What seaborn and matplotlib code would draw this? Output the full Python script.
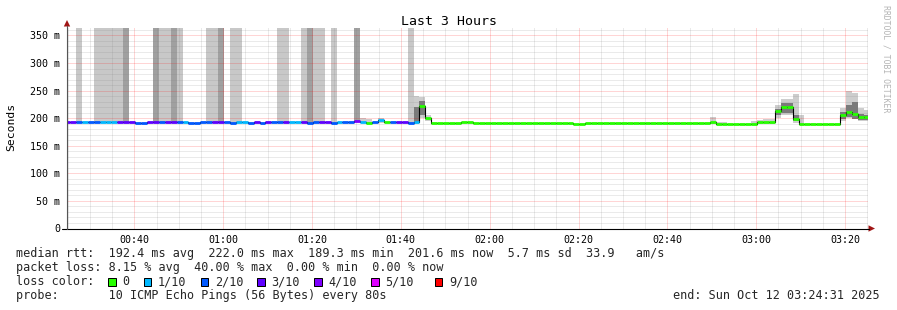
import numpy as np
import pandas as pd
import matplotlib
matplotlib.use("Agg")
import matplotlib.pyplot as plt
from matplotlib.patches import Polygon, Rectangle
import seaborn as sns

# ---------------- data ----------------
title = "Last 3 Hours"
y_label = "Seconds"
x_tick_labels = ["00:40", "01:00", "01:20", "01:40", "02:00", "02:20", "02:40", "03:00", "03:20"]
y_ticks = [0, 50, 100, 150, 200, 250, 300, 350]
y_tick_labels = ["0", "50 m", "100 m", "150 m", "200 m", "250 m", "300 m", "350 m"]
axis_start = "00:24:51"
axis_span_min = 180.3
y_top = 363.5
bin_first_start = "00:24:11"
bin_seconds = 80

# median rtt per 80 s bin (ms), bins k = -1 .. 134
median_ms = [
    192.6, 192.2, 192.4, 193.0, 192.2, 192.2, 192.8, 192.8, 192.8, 192.4, 192.4,
    192.4, 192.0, 192.0, 192.6, 192.6, 192.2, 192.4, 192.6, 192.2, 192.8,
    192.0, 192.0, 192.2, 192.4, 192.6, 192.6, 192.2, 192.0, 192.8, 192.8,
    192.0, 192.6, 192.0, 192.8, 192.2, 192.2, 192.6, 192.8, 192.8, 192.4,
    192.0, 192.2, 192.6, 192.6, 192.0, 192.6, 192.2, 192.2, 195.0, 193.0,
    192.0, 192.6, 196.5, 192.2, 192.4, 192.6, 192.6, 192.0, 192.2, 222.0,
    200.0, 191.5, 191.5, 191.5, 191.5, 191.5, 192.8, 192.8, 191.5, 190.4,
    190.4, 190.4, 190.4, 190.4, 190.4, 190.4, 190.4, 190.4, 190.4, 190.4,
    190.4, 190.4, 190.4, 190.4, 190.4, 189.3, 189.3, 190.4, 190.4, 190.4,
    190.4, 190.4, 190.4, 190.4, 190.4, 190.4, 190.4, 190.4, 190.4, 190.4,
    190.4, 190.4, 190.4, 190.4, 190.4, 190.4, 190.4, 190.4, 193.0, 190.3,
    190.3, 190.3, 190.3, 190.3, 190.3, 190.3, 192.5, 192.5, 192.5, 212.5,
    221.0, 220.5, 199.0, 190.2, 190.2, 190.2, 190.2, 190.2, 190.2, 190.2,
    205.0, 211.0, 207.0, 201.6, 201.6,
]
# lost pings (of 10) per bin, bins k = -1 .. 134
loss_count = [
    3, 3, 2, 1, 2, 2, 1, 1, 1, 3, 3,
    3, 2, 2, 3, 3, 2, 3, 3, 2, 1,
    2, 2, 2, 2, 3, 3, 2, 2, 1, 1,
    2, 3, 2, 3, 2, 2, 3, 1, 1, 3,
    2, 2, 3, 3, 2, 1, 2, 2, 4, 1,
    0, 2, 1, 0, 2, 3, 3, 2, 1, 0,
    0, 0, 0, 0, 0, 0, 0, 0, 0, 0,
    0, 0, 0, 0, 0, 0, 0, 0, 0, 0,
    0, 0, 0, 0, 0, 0, 0, 0, 0, 0,
    0, 0, 0, 0, 0, 0, 0, 0, 0, 0,
    0, 0, 0, 0, 0, 0, 0, 0, 0, 0,
    0, 0, 0, 0, 0, 0, 0, 0, 0, 0,
    0, 0, 0, 0, 0, 0, 0, 0, 0, 0,
    0, 0, 0, 0, 0,
]
# bins whose smoke runs off the top of the graph
full_light_bins = [1, 4, 5, 6, 7, 8, 15, 16, 18, 23, 24, 27, 28, 35, 36, 39, 41, 42, 44, 57]
full_dark_bins = [9, 14, 17, 25, 40, 48]
# outer smoke
smoke_bins = [49, 50, 52, 58, 59, 60, 108, 109, 110, 115, 116, 117, 118, 119, 120, 121, 122, 123, 130, 131, 132, 133, 134]
smoke_lo = [191, 191, 191, 190, 200, 194, 190, 189, 189, 189, 190, 190, 190, 200, 205, 205, 192, 189, 195, 200, 198, 195, 195]
smoke_hi = [201, 199, 201, 241, 238, 205, 203, 193, 193, 194, 197, 198, 198, 223, 234, 234, 243, 205, 218, 250, 245, 218, 215]
# inner (denser) smoke
core_bins = [58, 59, 119, 120, 121, 122, 130, 131, 132, 133, 134]
core_lo = [192, 205, 205, 210, 210, 194, 198, 203, 199, 197, 197]
core_hi = [221, 232, 217, 228, 228, 206, 212, 224, 230, 207, 206]

loss_levels = [0, 1, 2, 3, 4, 5, 9]
loss_hex = ["#26ff00", "#00b8ff", "#0059ff", "#5e00ff", "#7e00ff", "#dd00ff", "#ff0000"]
legend_labels = ["0", "1/10", "2/10", "3/10", "4/10", "5/10", "9/10"]

stats_line = "median rtt:  192.4 ms avg  222.0 ms max  189.3 ms min  201.6 ms now  5.7 ms sd  33.9   am/s"
loss_line = "packet loss: 8.15 % avg  40.00 % max  0.00 % min  0.00 % now"
probe_line = "probe:       10 ICMP Echo Pings (56 Bytes) every 80s"
end_line = "end: Sun Oct 12 03:24:31 2025"
credit = "RRDTOOL / TOBI OETIKER"

# ---------------- drawing ----------------
sns.set_style("white")
plt.rcParams["font.family"] = ["DejaVu Sans Mono", "DejaVu Sans"]

W, H = 897, 310
fig = plt.figure(figsize=(W / 100, H / 100), dpi=100)
fig.patch.set_facecolor("white")
ax = fig.add_axes([67 / W, 1 - 228.5 / H, 801 / W, 200.5 / H])
ax.set_facecolor("white")


def hms_to_min(s):
    p = [int(v) for v in s.split(":")]
    while len(p) < 3:
        p.append(0)
    return p[0] * 60 + p[1] + p[2] / 60.0


t0 = hms_to_min(axis_start)
n = len(median_ms)
bin_w = bin_seconds / 60.0
bin_x = hms_to_min(bin_first_start) - t0 + np.arange(n) * bin_w
med = np.array(median_ms, dtype=float)
col_of = dict(zip(loss_levels, loss_hex))

# full-height smoke
for bins, c in ((full_light_bins, "#c8c8c8"), (full_dark_bins, "#a0a0a0")):
    idx = np.array(bins) + 1
    ax.bar(bin_x[idx], y_top - med[idx], bottom=med[idx], width=bin_w, align="edge",
           color=c, linewidth=0, zorder=1)

# outer and inner smoke
idx = np.array(smoke_bins) + 1
ax.bar(bin_x[idx], np.array(smoke_hi) - np.array(smoke_lo), bottom=smoke_lo, width=bin_w,
       align="edge", color="#cdcdcd", linewidth=0, zorder=1.1)
idx = np.array(core_bins) + 1
ax.bar(bin_x[idx], np.array(core_hi) - np.array(core_lo), bottom=core_lo, width=bin_w,
       align="edge", color="#7a7a7a", linewidth=0, zorder=1.2)

# black median step outline
df = pd.DataFrame({"t": np.append(bin_x, bin_x[-1] + bin_w), "ms": np.append(med, med[-1])})
sns.lineplot(data=df, x="t", y="ms", drawstyle="steps-post", color="black", linewidth=0.8,
             ax=ax, zorder=2.8)

# loss-coloured median segments
seg_colors = [col_of[l] for l in loss_count]
ax.hlines(med, bin_x, bin_x + bin_w, colors=seg_colors, linewidth=2.0, zorder=3,
          capstyle="butt")

ax.set_xlim(0, axis_span_min)
ax.set_ylim(0, y_top)

# ticks / grid
xt = [hms_to_min(s) - t0 for s in x_tick_labels]
ax.set_xticks(xt)
ax.set_xticklabels(x_tick_labels)
x_minor = np.arange(25, 210, 5) - t0
ax.set_xticks(x_minor[(x_minor > 0) & (x_minor < axis_span_min)], minor=True)
ax.set_yticks(y_ticks)
ax.set_yticklabels(y_tick_labels)
ax.set_yticks(np.arange(10, y_top, 10), minor=True)

dots = (0, (1, 1))
ax.grid(which="major", color="#ff0000", alpha=0.33, linestyle=dots, linewidth=0.72)
ax.grid(which="minor", color="#808080", alpha=0.33, linestyle=dots, linewidth=0.72)
ax.set_axisbelow(False)
for gl in ax.get_xgridlines() + ax.get_ygridlines():
    gl.set_zorder(2.5)

ax.tick_params(axis="y", which="major", length=3.6, width=0.72, pad=1.5, labelsize=7.2,
               colors="black", direction="out")
ax.tick_params(axis="x", which="major", length=1.5, width=0.72, pad=3.0, labelsize=7.2,
               colors="black", direction="out")
ax.tick_params(which="minor", length=0)
ax.set_xlabel("")
ax.set_ylabel("")
for s in ax.spines.values():
    s.set_visible(False)


def fx(x):
    return x / W


def fy(y):
    return 1 - y / H


tf = fig.transFigure
arrow_c = "#a01515"
# axes lines with arrows
fig.add_artist(plt.Line2D([fx(62), fx(869)], [fy(228.5), fy(228.5)], color="black",
                          linewidth=0.8, transform=tf))
fig.add_artist(plt.Line2D([fx(67), fx(67)], [fy(228.5), fy(26)], color="#555555",
                          linewidth=0.8, transform=tf))
fig.add_artist(Polygon([(fx(875), fy(228.5)), (fx(868.5), fy(225.3)), (fx(868.5), fy(231.7))],
                       closed=True, color=arrow_c, transform=tf, linewidth=0))
fig.add_artist(Polygon([(fx(67), fy(20)), (fx(63.8), fy(26.5)), (fx(70.2), fy(26.5))],
                       closed=True, color=arrow_c, transform=tf, linewidth=0))

# title, labels
fig.text(fx(448.5), fy(25), title, ha="center", va="baseline", fontsize=9.5, color="black")
fig.text(fx(11), fy(127), y_label, ha="center", va="center", rotation=90, fontsize=8.2,
         color="black")
fig.text(fx(886), fy(59), credit, ha="center", va="center", rotation=270, fontsize=5.9,
         color="#b4b4b4")

# legend block
lx = 16
adv = 7.1
fs = 8.5
fig.text(fx(lx), fy(257.3), stats_line, ha="left", va="baseline", fontsize=fs)
fig.text(fx(lx), fy(271.2), loss_line, ha="left", va="baseline", fontsize=fs)
fig.text(fx(lx), fy(285.2), "loss color:", ha="left", va="baseline", fontsize=fs)
fig.text(fx(lx), fy(299.2), probe_line, ha="left", va="baseline", fontsize=fs)
fig.text(fx(880), fy(299.2), end_line, ha="right", va="baseline", fontsize=fs)

col = 13
for i, (lab, c) in enumerate(zip(legend_labels, loss_hex)):
    if i == len(legend_labels) - 1:
        col += 1
    bx = lx + col * adv
    fig.add_artist(Rectangle((fx(bx), fy(285.5)), 7.5 / W, 7.5 / H, facecolor=c,
                             edgecolor="black", linewidth=0.72, transform=tf))
    fig.text(fx(lx + (col + 2) * adv), fy(285.2), lab, ha="left", va="baseline", fontsize=fs)
    col += 2 + len(lab) + 2

fig.savefig("out.png", dpi=100, facecolor="white")
